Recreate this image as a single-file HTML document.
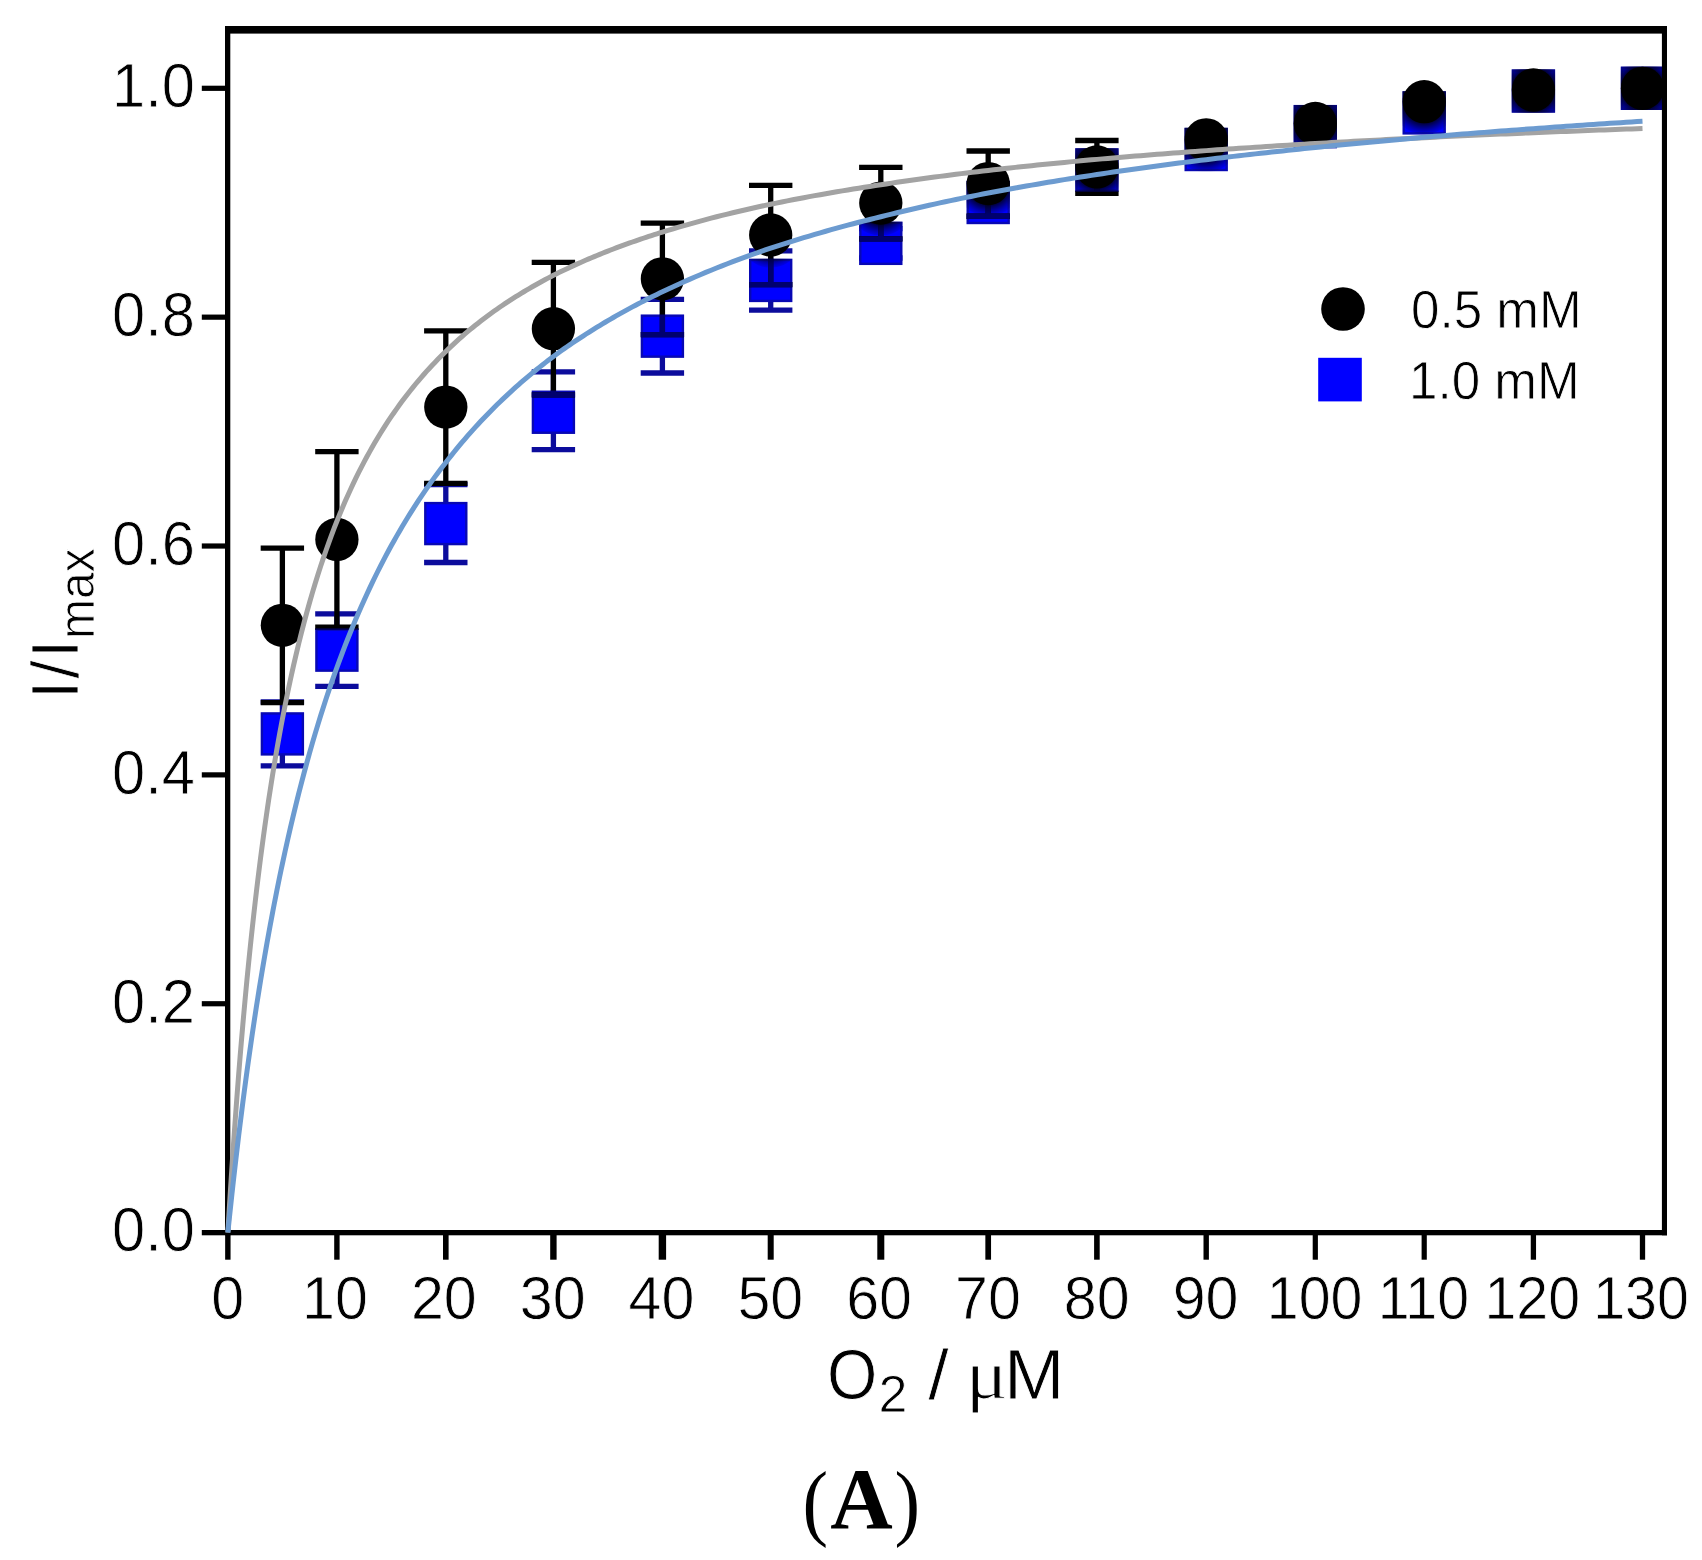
<!DOCTYPE html>
<html lang="en"><head><meta charset="utf-8"><title>I/Imax vs O2</title>
<style>html,body{margin:0;padding:0;background:#fff}body{width:1702px;height:1560px;overflow:hidden}svg{display:block}text{fill:#000}.thin text{stroke:#fff;stroke-width:0.8px;stroke-linejoin:round}</style>
</head><body>
<svg width="1702" height="1560" viewBox="0 0 1702 1560">
<rect x="0" y="0" width="1702" height="1560" fill="#ffffff"/>
<defs><clipPath id="sq">
<rect x="260.68" y="712.21" width="43.4" height="43.4"/>
<rect x="315.2" y="628.45" width="43.4" height="43.4"/>
<rect x="424.1" y="501.89" width="43.4" height="43.4"/>
<rect x="531.7" y="390.55" width="43.4" height="43.4"/>
<rect x="640.7" y="314.46" width="43.4" height="43.4"/>
<rect x="749" y="258.73" width="43.4" height="43.4"/>
<rect x="859.1" y="221.65" width="43.4" height="43.4"/>
<rect x="966.5" y="180.8" width="43.4" height="43.4"/>
<rect x="1075.2" y="148.19" width="43.4" height="43.4"/>
<rect x="1184.5" y="127.82" width="43.4" height="43.4"/>
<rect x="1293.6" y="104.93" width="43.4" height="43.4"/>
<rect x="1402.5" y="91.2" width="43.4" height="43.4"/>
<rect x="1511.7" y="69.35" width="43.4" height="43.4"/>
<rect x="1620.8" y="66.6" width="43.4" height="43.4"/>
</clipPath>
<radialGradient id="halo"><stop offset="0.62" stop-color="#000018" stop-opacity="0.95"/><stop offset="0.8" stop-color="#000040" stop-opacity="0.6"/><stop offset="1" stop-color="#000070" stop-opacity="0.15"/></radialGradient>
</defs>
<g id="series-blue">
<path d="M282.38 701.87V765.95M260.68 701.87H304.07M260.68 765.95H304.07" stroke="#0c0c9c" stroke-width="5.3" fill="none"/>
<path d="M336.9 613.88V686.43M315.2 613.88H358.6M315.2 686.43H358.6" stroke="#0c0c9c" stroke-width="5.3" fill="none"/>
<path d="M445.8 484.69V562.5M424.1 484.69H467.5M424.1 562.5H467.5" stroke="#0c0c9c" stroke-width="5.3" fill="none"/>
<path d="M553.4 371.86V449.67M531.7 371.86H575.1M531.7 449.67H575.1" stroke="#0c0c9c" stroke-width="5.3" fill="none"/>
<path d="M662.4 299.31V373M640.7 299.31H684.1M640.7 373H684.1" stroke="#0c0c9c" stroke-width="5.3" fill="none"/>
<path d="M770.7 250.79V310.07M749 250.79H792.4M749 310.07H792.4" stroke="#0c0c9c" stroke-width="5.3" fill="none"/>
<path d="M880.8 228.71V258M859.1 228.71H902.5M859.1 258H902.5" stroke="#0c0c9c" stroke-width="5.3" fill="none"/>
<rect x="261.88" y="713.41" width="41" height="41" fill="#0000ff" stroke="#0808b4" stroke-width="2.4"/>
<rect x="316.4" y="629.65" width="41" height="41" fill="#0000ff" stroke="#0808b4" stroke-width="2.4"/>
<rect x="425.3" y="503.09" width="41" height="41" fill="#0000ff" stroke="#0808b4" stroke-width="2.4"/>
<rect x="532.9" y="391.75" width="41" height="41" fill="#0000ff" stroke="#0808b4" stroke-width="2.4"/>
<rect x="641.9" y="315.66" width="41" height="41" fill="#0000ff" stroke="#0808b4" stroke-width="2.4"/>
<rect x="750.2" y="259.93" width="41" height="41" fill="#0000ff" stroke="#0808b4" stroke-width="2.4"/>
<rect x="860.3" y="222.85" width="41" height="41" fill="#0000ff" stroke="#0808b4" stroke-width="2.4"/>
<rect x="967.7" y="182" width="41" height="41" fill="#0000ff" stroke="#0808b4" stroke-width="2.4"/>
<rect x="1076.4" y="149.39" width="41" height="41" fill="#0000ff" stroke="#0808b4" stroke-width="2.4"/>
<rect x="1185.7" y="129.02" width="41" height="41" fill="#0000ff" stroke="#0808b4" stroke-width="2.4"/>
<rect x="1294.8" y="106.13" width="41" height="41" fill="#0000ff" stroke="#0808b4" stroke-width="2.4"/>
<rect x="1403.7" y="92.4" width="41" height="41" fill="#0000ff" stroke="#0808b4" stroke-width="2.4"/>
<rect x="1512.9" y="70.55" width="41" height="41" fill="#0000ff" stroke="#0808b4" stroke-width="2.4"/>
<rect x="1622" y="67.8" width="41" height="41" fill="#0000ff" stroke="#0808b4" stroke-width="2.4"/>
</g>
<g id="series-black">
<path d="M282.38 548.08V702.56M260.68 548.08H304.07M260.68 702.56H304.07" stroke="#000" stroke-width="5.3" fill="none"/>
<path d="M336.9 451.62V627.15M315.2 451.62H358.6M315.2 627.15H358.6" stroke="#000" stroke-width="5.3" fill="none"/>
<path d="M445.8 330.78V483.43M424.1 330.78H467.5M424.1 483.43H467.5" stroke="#000" stroke-width="5.3" fill="none"/>
<path d="M553.4 262.46V394.97M531.7 262.46H575.1M531.7 394.97H575.1" stroke="#000" stroke-width="5.3" fill="none"/>
<path d="M662.4 223.1V334.55M640.7 223.1H684.1M640.7 334.55H684.1" stroke="#000" stroke-width="5.3" fill="none"/>
<path d="M770.7 185.45V284.55M749 185.45H792.4M749 284.55H792.4" stroke="#000" stroke-width="5.3" fill="none"/>
<path d="M880.8 167.37V238.78M859.1 167.37H902.5M859.1 238.78H902.5" stroke="#000" stroke-width="5.3" fill="none"/>
<path d="M988.2 151.01V216.23M966.5 151.01H1009.9M966.5 216.23H1009.9" stroke="#000" stroke-width="5.3" fill="none"/>
<path d="M1096.9 140.48V193.35M1075.2 140.48H1118.6M1075.2 193.35H1118.6" stroke="#000" stroke-width="5.3" fill="none"/>
<g clip-path="url(#sq)">
<path d="M282.38 548.08V702.56M260.68 548.08H304.07M260.68 702.56H304.07" stroke="#00006e" stroke-width="5.3" fill="none"/>
<path d="M336.9 451.62V627.15M315.2 451.62H358.6M315.2 627.15H358.6" stroke="#00006e" stroke-width="5.3" fill="none"/>
<path d="M445.8 330.78V483.43M424.1 330.78H467.5M424.1 483.43H467.5" stroke="#00006e" stroke-width="5.3" fill="none"/>
<path d="M553.4 262.46V394.97M531.7 262.46H575.1M531.7 394.97H575.1" stroke="#00006e" stroke-width="5.3" fill="none"/>
<path d="M662.4 223.1V334.55M640.7 223.1H684.1M640.7 334.55H684.1" stroke="#00006e" stroke-width="5.3" fill="none"/>
<path d="M770.7 185.45V284.55M749 185.45H792.4M749 284.55H792.4" stroke="#00006e" stroke-width="5.3" fill="none"/>
<path d="M880.8 167.37V238.78M859.1 167.37H902.5M859.1 238.78H902.5" stroke="#00006e" stroke-width="5.3" fill="none"/>
<path d="M988.2 151.01V216.23M966.5 151.01H1009.9M966.5 216.23H1009.9" stroke="#00006e" stroke-width="5.3" fill="none"/>
<path d="M1096.9 140.48V193.35M1075.2 140.48H1118.6M1075.2 193.35H1118.6" stroke="#00006e" stroke-width="5.3" fill="none"/>
<circle cx="282.38" cy="625.32" r="32.65" fill="url(#halo)"/>
<circle cx="336.9" cy="539.38" r="32.65" fill="url(#halo)"/>
<circle cx="445.8" cy="407.1" r="32.65" fill="url(#halo)"/>
<circle cx="553.4" cy="328.72" r="32.65" fill="url(#halo)"/>
<circle cx="662.4" cy="278.83" r="32.65" fill="url(#halo)"/>
<circle cx="770.7" cy="235" r="32.65" fill="url(#halo)"/>
<circle cx="880.8" cy="203.07" r="32.65" fill="url(#halo)"/>
<circle cx="988.2" cy="183.62" r="32.65" fill="url(#halo)"/>
<circle cx="1096.9" cy="166.91" r="32.65" fill="url(#halo)"/>
<circle cx="1206.2" cy="139.79" r="32.65" fill="url(#halo)"/>
<circle cx="1315.3" cy="123.43" r="32.65" fill="url(#halo)"/>
<circle cx="1424.2" cy="101.69" r="32.65" fill="url(#halo)"/>
<circle cx="1533.4" cy="90.02" r="32.65" fill="url(#halo)"/>
<circle cx="1642.5" cy="88.3" r="32.65" fill="url(#halo)"/>
</g>
<circle cx="282.38" cy="625.32" r="21.65" fill="#000"/>
<circle cx="336.9" cy="539.38" r="21.65" fill="#000"/>
<circle cx="445.8" cy="407.1" r="21.65" fill="#000"/>
<circle cx="553.4" cy="328.72" r="21.65" fill="#000"/>
<circle cx="662.4" cy="278.83" r="21.65" fill="#000"/>
<circle cx="770.7" cy="235" r="21.65" fill="#000"/>
<circle cx="880.8" cy="203.07" r="21.65" fill="#000"/>
<circle cx="988.2" cy="183.62" r="21.65" fill="#000"/>
<circle cx="1096.9" cy="166.91" r="21.65" fill="#000"/>
<circle cx="1206.2" cy="139.79" r="21.65" fill="#000"/>
<circle cx="1315.3" cy="123.43" r="21.65" fill="#000"/>
<circle cx="1424.2" cy="101.69" r="21.65" fill="#000"/>
<circle cx="1533.4" cy="90.02" r="21.65" fill="#000"/>
<circle cx="1642.5" cy="88.3" r="21.65" fill="#000"/>
</g>
<g id="axes" fill="#000">
<rect x="225" y="26" width="1442" height="7.6"/>
<rect x="225" y="26" width="5.3" height="1209.3"/>
<rect x="1661.9" y="26" width="5.1" height="1209.3"/>
<rect x="201.8" y="1230" width="1465.2" height="5.3"/>
<rect x="201.8" y="1001.14" width="24" height="5.2"/>
<rect x="201.8" y="772.28" width="24" height="5.2"/>
<rect x="201.8" y="543.42" width="24" height="5.2"/>
<rect x="201.8" y="314.56" width="24" height="5.2"/>
<rect x="201.8" y="85.7" width="24" height="5.2"/>
<rect x="225.15" y="1233" width="5.4" height="26.7"/>
<rect x="334.2" y="1233" width="5.4" height="26.7"/>
<rect x="443" y="1233" width="5.6" height="26.7"/>
<rect x="550.2" y="1233" width="6.4" height="26.7"/>
<rect x="658.7" y="1233" width="7.4" height="26.7"/>
<rect x="767.7" y="1233" width="6" height="26.7"/>
<rect x="877.3" y="1233" width="7" height="26.7"/>
<rect x="985.35" y="1233" width="5.7" height="26.7"/>
<rect x="1094.1" y="1233" width="5.6" height="26.7"/>
<rect x="1203.5" y="1233" width="5.4" height="26.7"/>
<rect x="1312.7" y="1233" width="5.2" height="26.7"/>
<rect x="1421.6" y="1233" width="5.2" height="26.7"/>
<rect x="1530.75" y="1233" width="5.3" height="26.7"/>
<rect x="1639.85" y="1233" width="5.3" height="26.7"/>
</g>
<g id="fits" fill="none" stroke-width="5" stroke-linejoin="round">
<path d="M227.85 1232.6L229.21 1209.98L230.58 1188.22L231.94 1167.29L233.3 1147.12L234.67 1127.69L236.03 1108.95L237.39 1090.87L238.75 1073.41L240.12 1056.53L241.48 1040.22L242.84 1024.44L244.21 1009.17L245.57 994.39L246.93 980.06L248.3 966.18L249.66 952.71L251.02 939.64L252.39 926.96L253.75 914.65L255.11 902.68L256.48 891.06L257.84 879.75L259.2 868.75L260.56 858.05L261.93 847.64L263.29 837.5L264.65 827.62L266.02 817.99L267.38 808.61L268.74 799.46L270.11 790.54L271.47 781.83L272.83 773.34L274.2 765.04L275.56 756.94L276.92 749.03L278.29 741.3L279.65 733.74L281.01 726.36L282.38 719.14L285.1 705.16L287.83 691.78L290.55 678.96L293.28 666.66L296.01 654.85L298.73 643.51L301.46 632.59L304.18 622.09L306.91 611.98L309.64 602.24L312.36 592.84L315.09 583.77L317.82 575.02L320.54 566.56L323.27 558.38L326 550.47L328.72 542.82L331.45 535.4L334.17 528.22L336.9 521.26L339.62 514.51L342.34 507.97L345.07 501.61L347.79 495.44L350.51 489.44L353.23 483.61L355.96 477.95L358.68 472.44L361.4 467.08L364.12 461.86L366.85 456.78L369.57 451.83L372.29 447L375.01 442.3L377.74 437.72L380.46 433.25L383.18 428.89L385.9 424.63L388.63 420.48L391.35 416.42L394.07 412.46L396.8 408.58L399.52 404.8L402.24 401.1L404.96 397.48L407.69 393.94L410.41 390.48L413.13 387.1L415.85 383.78L418.57 380.54L421.3 377.36L424.02 374.25L426.74 371.2L429.47 368.21L432.19 365.29L434.91 362.42L437.63 359.6L440.36 356.84L443.08 354.14L445.8 351.48L448.49 348.88L451.18 346.33L453.87 343.82L456.56 341.36L459.25 338.94L461.94 336.56L464.63 334.23L467.32 331.94L470.01 329.69L472.7 327.48L475.39 325.31L478.08 323.17L480.77 321.07L483.46 319.01L486.15 316.98L488.84 314.98L491.53 313.02L494.22 311.09L496.91 309.19L499.6 307.32L502.29 305.48L504.98 303.66L507.67 301.88L510.36 300.12L513.05 298.4L515.74 296.69L518.43 295.02L521.12 293.37L523.81 291.74L526.5 290.14L529.19 288.56L531.88 287L534.57 285.47L537.26 283.96L539.95 282.47L542.64 281L545.33 279.55L548.02 278.12L550.71 276.71L553.4 275.33L556.12 273.96L558.85 272.6L561.57 271.27L564.3 269.96L567.02 268.66L569.75 267.38L572.48 266.12L575.2 264.87L577.92 263.64L580.65 262.42L583.38 261.23L586.1 260.04L588.82 258.87L591.55 257.72L594.27 256.58L597 255.45L599.73 254.34L602.45 253.24L605.17 252.16L607.9 251.09L610.62 250.03L613.35 248.98L616.07 247.95L618.8 246.93L621.52 245.92L624.25 244.92L626.98 243.93L629.7 242.96L632.42 242L635.15 241.04L637.88 240.1L640.6 239.17L643.32 238.25L646.05 237.34L648.77 236.44L651.5 235.55L654.23 234.67L656.95 233.8L659.67 232.94L662.4 232.09L667.81 230.41L673.23 228.77L678.64 227.16L684.06 225.59L689.48 224.05L694.89 222.54L700.3 221.06L705.72 219.61L711.13 218.18L716.55 216.79L721.97 215.42L727.38 214.08L732.8 212.77L738.21 211.48L743.62 210.21L749.04 208.97L754.46 207.75L759.87 206.55L765.29 205.37L770.7 204.21L776.21 203.08L781.71 201.96L787.22 200.87L792.72 199.79L798.23 198.73L803.73 197.69L809.24 196.66L814.74 195.66L820.25 194.67L825.75 193.69L831.25 192.73L836.76 191.79L842.26 190.86L847.77 189.95L853.27 189.05L858.78 188.16L864.28 187.29L869.79 186.43L875.29 185.59L880.8 184.75L886.17 183.93L891.54 183.13L896.91 182.33L902.28 181.55L907.65 180.77L913.02 180.01L918.39 179.26L923.76 178.52L929.13 177.79L934.5 177.07L939.87 176.36L945.24 175.66L950.61 174.97L955.98 174.29L961.35 173.62L966.72 172.96L972.09 172.31L977.46 171.66L982.83 171.03L988.2 170.4L993.63 169.78L999.07 169.17L1004.51 168.56L1009.94 167.97L1015.38 167.38L1020.81 166.8L1026.25 166.22L1031.68 165.66L1037.12 165.1L1042.55 164.54L1047.99 164L1053.42 163.46L1058.86 162.93L1064.29 162.4L1069.73 161.88L1075.16 161.37L1080.6 160.86L1086.03 160.36L1091.47 159.86L1096.9 159.37L1102.37 158.88L1107.83 158.41L1113.3 157.93L1118.76 157.46L1124.23 157L1129.69 156.54L1135.15 156.09L1140.62 155.64L1146.09 155.2L1151.55 154.76L1157.02 154.33L1162.48 153.9L1167.95 153.48L1173.41 153.06L1178.88 152.64L1184.34 152.23L1189.81 151.83L1195.27 151.42L1200.74 151.03L1206.2 150.63L1211.65 150.24L1217.11 149.86L1222.57 149.48L1228.02 149.1L1233.47 148.72L1238.93 148.35L1244.38 147.99L1249.84 147.63L1255.3 147.27L1260.75 146.91L1266.2 146.56L1271.66 146.21L1277.12 145.86L1282.57 145.52L1288.03 145.18L1293.48 144.85L1298.93 144.52L1304.39 144.19L1309.85 143.86L1315.3 143.54L1320.74 143.22L1326.19 142.9L1331.63 142.59L1337.08 142.28L1342.53 141.97L1347.97 141.66L1353.41 141.36L1358.86 141.06L1364.31 140.77L1369.75 140.47L1375.19 140.18L1380.64 139.89L1386.09 139.6L1391.53 139.32L1396.97 139.04L1402.42 138.76L1407.87 138.48L1413.31 138.21L1418.76 137.94L1424.2 137.67L1429.66 137.4L1435.12 137.13L1440.58 136.87L1446.04 136.61L1451.5 136.35L1456.96 136.1L1462.42 135.84L1467.88 135.59L1473.34 135.34L1478.8 135.09L1484.26 134.85L1489.72 134.6L1495.18 134.36L1500.64 134.12L1506.1 133.88L1511.56 133.65L1517.02 133.41L1522.48 133.18L1527.94 132.95L1533.4 132.72L1538.86 132.5L1544.31 132.27L1549.77 132.05L1555.22 131.83L1560.68 131.61L1566.13 131.39L1571.59 131.17L1577.04 130.96L1582.5 130.75L1587.95 130.53L1593.4 130.32L1598.86 130.12L1604.32 129.91L1609.77 129.7L1615.22 129.5L1620.68 129.3L1626.13 129.1L1631.59 128.9L1637.05 128.7L1642.5 128.51" stroke="#a3a3a3"/>
<path d="M227.85 1232.6L229.21 1219.48L230.58 1206.64L231.94 1194.07L233.3 1181.77L234.67 1169.72L236.03 1157.93L237.39 1146.37L238.75 1135.04L240.12 1123.95L241.48 1113.07L242.84 1102.4L244.21 1091.94L245.57 1081.68L246.93 1071.62L248.3 1061.75L249.66 1052.06L251.02 1042.55L252.39 1033.21L253.75 1024.05L255.11 1015.05L256.48 1006.21L257.84 997.52L259.2 988.99L260.56 980.61L261.93 972.37L263.29 964.27L264.65 956.31L266.02 948.48L267.38 940.78L268.74 933.21L270.11 925.77L271.47 918.44L272.83 911.23L274.2 904.14L275.56 897.16L276.92 890.29L278.29 883.53L279.65 876.87L281.01 870.32L282.38 863.86L285.1 851.24L287.83 839L290.55 827.11L293.28 815.56L296.01 804.34L298.73 793.43L301.46 782.83L304.18 772.51L306.91 762.47L309.64 752.69L312.36 743.17L315.09 733.9L317.82 724.86L320.54 716.05L323.27 707.46L326 699.08L328.72 690.9L331.45 682.92L334.17 675.12L336.9 667.51L339.62 660.08L342.34 652.81L345.07 645.71L347.79 638.77L350.51 631.98L353.23 625.33L355.96 618.84L358.68 612.48L361.4 606.25L364.12 600.16L366.85 594.19L369.57 588.34L372.29 582.62L375.01 577L377.74 571.5L380.46 566.11L383.18 560.82L385.9 555.64L388.63 550.55L391.35 545.56L394.07 540.67L396.8 535.86L399.52 531.15L402.24 526.52L404.96 521.97L407.69 517.51L410.41 513.12L413.13 508.81L415.85 504.58L418.57 500.42L421.3 496.33L424.02 492.31L426.74 488.36L429.47 484.48L432.19 480.66L434.91 476.9L437.63 473.2L440.36 469.57L443.08 465.99L445.8 462.47L448.49 459L451.18 455.59L453.87 452.23L456.56 448.93L459.25 445.67L461.94 442.46L464.63 439.31L467.32 436.2L470.01 433.13L472.7 430.11L475.39 427.14L478.08 424.21L480.77 421.32L483.46 418.47L486.15 415.66L488.84 412.89L491.53 410.17L494.22 407.47L496.91 404.82L499.6 402.2L502.29 399.62L504.98 397.08L507.67 394.56L510.36 392.09L513.05 389.64L515.74 387.23L518.43 384.85L521.12 382.49L523.81 380.17L526.5 377.88L529.19 375.62L531.88 373.39L534.57 371.19L537.26 369.01L539.95 366.86L542.64 364.74L545.33 362.64L548.02 360.57L550.71 358.52L553.4 356.5L556.12 354.5L558.85 352.53L561.57 350.58L564.3 348.65L567.02 346.75L569.75 344.87L572.48 343.01L575.2 341.17L577.92 339.35L580.65 337.55L583.38 335.78L586.1 334.02L588.82 332.28L591.55 330.57L594.27 328.87L597 327.19L599.73 325.53L602.45 323.88L605.17 322.26L607.9 320.65L610.62 319.06L613.35 317.49L616.07 315.93L618.8 314.39L621.52 312.86L624.25 311.35L626.98 309.86L629.7 308.38L632.42 306.92L635.15 305.47L637.88 304.04L640.6 302.62L643.32 301.22L646.05 299.83L648.77 298.45L651.5 297.09L654.23 295.74L656.95 294.41L659.67 293.09L662.4 291.78L667.81 289.19L673.23 286.66L678.64 284.18L684.06 281.74L689.48 279.35L694.89 277L700.3 274.69L705.72 272.43L711.13 270.21L716.55 268.02L721.97 265.88L727.38 263.77L732.8 261.7L738.21 259.66L743.62 257.66L749.04 255.69L754.46 253.75L759.87 251.85L765.29 249.98L770.7 248.14L776.21 246.32L781.71 244.54L787.22 242.79L792.72 241.06L798.23 239.36L803.73 237.69L809.24 236.04L814.74 234.42L820.25 232.82L825.75 231.25L831.25 229.7L836.76 228.17L842.26 226.67L847.77 225.18L853.27 223.72L858.78 222.28L864.28 220.86L869.79 219.46L875.29 218.08L880.8 216.72L886.17 215.38L891.54 214.06L896.91 212.75L902.28 211.47L907.65 210.2L913.02 208.95L918.39 207.71L923.76 206.49L929.13 205.29L934.5 204.1L939.87 202.93L945.24 201.77L950.61 200.63L955.98 199.5L961.35 198.39L966.72 197.29L972.09 196.2L977.46 195.13L982.83 194.07L988.2 193.03L993.63 192L999.07 190.98L1004.51 189.97L1009.94 188.97L1015.38 187.99L1020.81 187.02L1026.25 186.05L1031.68 185.11L1037.12 184.17L1042.55 183.24L1047.99 182.32L1053.42 181.42L1058.86 180.52L1064.29 179.63L1069.73 178.76L1075.16 177.89L1080.6 177.03L1086.03 176.19L1091.47 175.35L1096.9 174.52L1102.37 173.7L1107.83 172.89L1113.3 172.09L1118.76 171.29L1124.23 170.51L1129.69 169.73L1135.15 168.96L1140.62 168.2L1146.09 167.45L1151.55 166.71L1157.02 165.97L1162.48 165.24L1167.95 164.52L1173.41 163.8L1178.88 163.09L1184.34 162.39L1189.81 161.7L1195.27 161.01L1200.74 160.34L1206.2 159.66L1211.65 159L1217.11 158.34L1222.57 157.68L1228.02 157.04L1233.47 156.39L1238.93 155.76L1244.38 155.13L1249.84 154.51L1255.3 153.89L1260.75 153.28L1266.2 152.68L1271.66 152.08L1277.12 151.48L1282.57 150.89L1288.03 150.31L1293.48 149.73L1298.93 149.16L1304.39 148.59L1309.85 148.03L1315.3 147.47L1320.74 146.92L1326.19 146.37L1331.63 145.83L1337.08 145.29L1342.53 144.76L1347.97 144.23L1353.41 143.71L1358.86 143.19L1364.31 142.67L1369.75 142.16L1375.19 141.66L1380.64 141.15L1386.09 140.66L1391.53 140.16L1396.97 139.68L1402.42 139.19L1407.87 138.71L1413.31 138.23L1418.76 137.76L1424.2 137.29L1429.66 136.83L1435.12 136.36L1440.58 135.91L1446.04 135.45L1451.5 135L1456.96 134.55L1462.42 134.11L1467.88 133.67L1473.34 133.24L1478.8 132.8L1484.26 132.37L1489.72 131.95L1495.18 131.53L1500.64 131.11L1506.1 130.69L1511.56 130.28L1517.02 129.87L1522.48 129.46L1527.94 129.06L1533.4 128.66L1538.86 128.26L1544.31 127.87L1549.77 127.48L1555.22 127.09L1560.68 126.7L1566.13 126.32L1571.59 125.94L1577.04 125.56L1582.5 125.19L1587.95 124.82L1593.4 124.45L1598.86 124.08L1604.32 123.72L1609.77 123.36L1615.22 123L1620.68 122.64L1626.13 122.29L1631.59 121.94L1637.05 121.59L1642.5 121.25" stroke="#6c9bd0"/>
</g>
<g id="ylabels" class="thin" font-family='"Liberation Sans", Arial, Helvetica, sans-serif' font-size="62" text-anchor="end">
<text transform="translate(195 1250.6) scale(0.962 1)">0.0</text>
<text transform="translate(195 1022.74) scale(0.962 1)">0.2</text>
<text transform="translate(195 793.88) scale(0.962 1)">0.4</text>
<text transform="translate(195 565.02) scale(0.962 1)">0.6</text>
<text transform="translate(195 336.16) scale(0.962 1)">0.8</text>
<text transform="translate(195 107.3) scale(0.962 1)">1.0</text>
</g>
<g id="xlabels" class="thin" font-family='"Liberation Sans", Arial, Helvetica, sans-serif' font-size="62" text-anchor="middle">
<text transform="translate(227.8 1318.9) scale(0.955 1)">0</text>
<text transform="translate(335.02 1318.9) scale(0.955 1)">10</text>
<text transform="translate(443.84 1318.9) scale(0.955 1)">20</text>
<text transform="translate(552.66 1318.9) scale(0.955 1)">30</text>
<text transform="translate(661.48 1318.9) scale(0.955 1)">40</text>
<text transform="translate(770.3 1318.9) scale(0.955 1)">50</text>
<text transform="translate(879.12 1318.9) scale(0.955 1)">60</text>
<text transform="translate(987.94 1318.9) scale(0.955 1)">70</text>
<text transform="translate(1096.76 1318.9) scale(0.955 1)">80</text>
<text transform="translate(1205.58 1318.9) scale(0.955 1)">90</text>
<text transform="translate(1314.6 1318.9) scale(0.925 1)">100</text>
<text transform="translate(1423.42 1318.9) scale(0.925 1)">110</text>
<text transform="translate(1532.24 1318.9) scale(0.925 1)">120</text>
<text transform="translate(1641.06 1318.9) scale(0.925 1)">130</text>
</g>
<g id="legend" class="thin" font-family='"Liberation Sans", Arial, Helvetica, sans-serif' font-size="53">
<circle cx="1343" cy="309" r="21.8" fill="#000"/>
<rect x="1318.2" y="357.8" width="43.6" height="43.6" fill="#0000ff"/>
<text transform="translate(1411 328.2) scale(0.965 1)">0.5 mM</text>
<text transform="translate(1409 399.1) scale(0.965 1)">1.0 mM</text>
</g>
<g id="xtitle" class="thin" font-family='"Liberation Sans", Arial, Helvetica, sans-serif' font-size="70">
<text transform="translate(827 1399.2) scale(0.925 1)">O</text>
<text transform="translate(878.6 1412.3)" font-size="52">2</text>
<text transform="translate(928.2 1399.2) scale(1.05 1)">/</text>
<text transform="translate(965.8 1398.2) scale(1.14 1)" font-family='"Liberation Serif", "Times New Roman", serif' font-size="69" style="stroke:#fff;stroke-width:1px">μ</text>
<text transform="translate(1004 1399.2) scale(1.037 1)">M</text>
</g>
<g id="ytitle" class="thin" transform="translate(78.3 699) rotate(-90)" font-family='"Liberation Sans", Arial, Helvetica, sans-serif'>
<text transform="scale(0.963 1)" font-size="67.5" letter-spacing="2.5">I/I</text>
<text transform="translate(60 15.8) scale(0.956 1)" font-size="50.2">max</text>
</g>
<g id="panel" font-family='"Liberation Serif", "Times New Roman", serif'>
<text transform="translate(802.5 1530.1) scale(0.905 1)" font-size="84.8">(</text>
<text transform="translate(830.2 1528)" font-size="86.5" font-weight="bold">A</text>
<text transform="translate(894.5 1530.1) scale(0.905 1)" font-size="84.8">)</text>
</g>
</svg>
</body></html>
